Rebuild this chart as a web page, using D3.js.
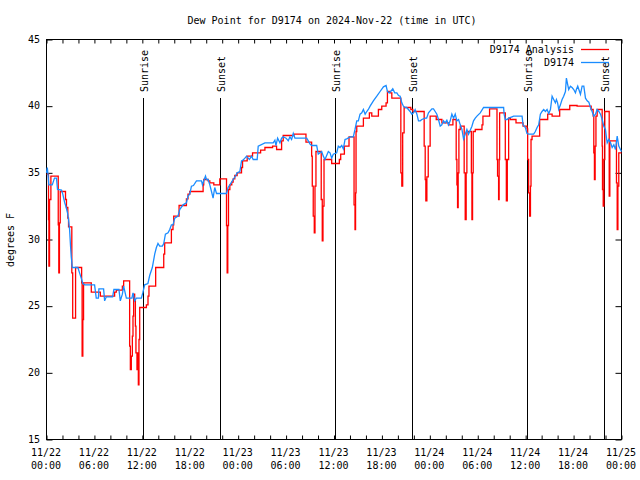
<!DOCTYPE html>
<html><head><meta charset="utf-8">
<script src="https://cdn.jsdelivr.net/npm/d3@7"></script>
<style>
body{margin:0;background:#fff}
svg text{font-family:"DejaVu Sans Mono",monospace;font-size:10px;fill:#000}
</style></head><body><svg id="c" width="640" height="480"></svg>
<script>
const chartTitle = "Dew Point for D9174 on 2024-Nov-22 (time in UTC)";
const yLabel = "degrees F";
const startUtc = Date.UTC(2024, 10, 22, 0, 0);
const endUtc = Date.UTC(2024, 10, 25, 0, 0);
const yTicks = [15, 20, 25, 30, 35, 40, 45];
const seriesNames = ["D9174 Analysis", "D9174"];
const seriesColors = ["#ff0000", "#1a8cff"];
const sunEvents = ["Sunrise", "Sunset", "Sunrise", "Sunset", "Sunrise", "Sunset"];
const sunHours = [12.04, 21.74, 36.16, 45.72, 60.12, 69.78];

// analysis series: [hours since 11/22 00:00 UTC, dew point F]
const analysisSeries = [
[0,34.9],[0.25,31.5],[0.3,28.0],[0.38,33.0],[0.55,34.75],[1.47,31.1],[1.54,27.5],[1.62,31.25],[1.72,33.6],
[2.38,33.0],[2.50,32.4],[2.67,31.6],[2.76,30.95],[3.17,27.5],[3.28,24.1],[3.64,27.9],[4.40,26.75],[4.46,21.25],
[4.55,24.0],[4.64,26.75],[5.61,26.05],[6.74,25.75],[8.53,26.05],[8.74,26.2],[9.50,26.5],[9.66,26.9],[10.41,22.0],
[10.50,20.25],[10.62,21.25],[10.75,22.75],[10.83,24.25],[10.91,25.9],[11.04,25.4],[11.13,23.5],[11.20,21.5],
[11.33,20.25],[11.40,21.5],[11.50,19.1],[11.58,22.5],[11.67,24.9],[12.51,25.1],[12.71,25.75],[12.83,26.5],
[13.67,27.9],[14.68,28.9],[14.80,29.75],[15.64,30.75],[15.84,31.1],[15.93,31.75],[16.60,32.55],[17.52,33.05],
[17.72,33.4],[17.94,33.6],[19.61,34.1],[19.69,34.5],[20.23,34.4],[20.45,34.25],[20.95,34.1],[21.70,34.55],
[22.54,31.05],[22.62,27.5],[22.70,31.05],[22.79,33.75],[22.96,34.1],[23.20,34.3],[23.37,34.55],[23.58,34.8],
[23.87,35.0],[24.42,35.4],[24.55,35.9],[25.13,36.25],[25.80,36.5],[26.81,36.7],[27.35,36.9],[28.31,37.0],
[28.81,36.75],[29.44,37.4],[29.64,37.8],[30.98,37.9],[32.49,37.3],[33.20,36.25],[33.28,34.0],[33.40,31.75],
[33.53,30.5],[33.62,34.0],[33.74,36.6],[34.40,33.0],[34.53,29.9],[34.62,32.5],[34.75,36.0],[35.71,35.7],
[36.67,36.0],[36.84,36.4],[37.30,37.0],[37.88,37.7],[38.51,32.6],[38.63,30.75],[38.70,33.5],[38.76,38.1],
[38.85,38.5],[39.68,39.1],[40.43,39.5],[40.73,39.25],[41.56,39.75],[41.98,40.0],[42.52,40.25],[42.69,41.1],
[43.03,41.0],[43.24,40.6],[44.28,40.6],[44.37,35.0],[44.49,34.0],[44.60,38.0],[44.78,39.9],[45.62,39.75],
[45.87,39.6],[47.29,37.0],[47.42,34.5],[47.50,32.9],[47.63,34.7],[47.80,37.0],[48.04,39.25],[48.80,39.0],
[49.51,38.75],[50.34,38.6],[50.89,39.0],[51.30,36.0],[51.39,34.1],[51.47,32.4],[51.55,35.0],[51.64,38.25],
[51.81,38.5],[52.30,35.0],[52.43,31.5],[52.55,35.0],[52.64,38.1],[53.20,35.0],[53.27,31.5],[53.35,35.0],
[53.43,38.1],[53.69,38.25],[54.53,38.6],[54.65,39.25],[55.48,39.8],[56.41,36.0],[56.48,34.75],[56.61,33.0],
[56.68,36.0],[56.74,39.5],[57.45,36.0],[57.58,32.9],[57.70,36.0],[57.87,39.1],[58.08,39.0],[58.79,38.75],
[59.67,38.5],[60.17,38.3],[60.25,36.0],[60.37,33.5],[60.50,31.75],[60.60,34.0],[60.67,37.5],[60.80,37.75],
[61.75,39.0],[62.76,39.4],[63.31,39.25],[64.26,39.75],[65.52,40.05],[66.44,40.0],[68.20,39.75],[68.45,39.25],
[68.53,36.5],[68.61,34.5],[68.70,37.0],[68.80,39.25],[68.95,39.75],[69.58,37.0],[69.62,33.75],[69.71,32.5],
[69.80,36.0],[69.91,39.6],[70.41,39.6],[70.46,33.25],[70.54,37.4],[71.37,34.25],[71.46,30.75],[71.55,34.0],
[71.66,36.5],[72.0,36.5]
];

// observed series: [hours since 11/22 00:00 UTC, dew point F]
const obsSeries = [
[0,35.0],[0.1,35.4],[0.2,34.8],[0.29,34.1],[0.72,34.1],[1.0,34.6],[1.25,34.6],[1.38,33.75],[1.88,33.7],
[2.04,33.4],[2.26,32.8],[2.47,32.4],[2.63,32.0],[2.76,31.5],[2.89,30.75],[3.01,29.5],[3.10,28.7],[3.17,28.3],
[3.22,27.9],[3.93,27.9],[4.14,27.5],[4.35,27.1],[4.55,26.7],[4.77,26.6],[6.02,26.6],[6.23,25.6],[6.50,25.6],
[6.56,26.3],[7.15,26.3],[7.28,25.4],[7.49,25.7],[8.28,25.7],[8.44,26.25],[9.07,26.25],[9.24,25.4],[9.50,25.9],
[9.66,26.5],[10.0,25.6],[10.70,25.6],[10.83,26.0],[11.04,25.4],[11.25,25.6],[11.88,25.6],[12.08,26.05],
[12.29,26.6],[12.70,26.7],[12.92,27.3],[13.25,27.9],[13.55,28.9],[13.76,29.4],[13.96,29.7],[14.17,29.5],
[14.51,29.5],[14.68,29.7],[14.89,30.4],[15.22,30.5],[15.43,30.75],[15.64,31.1],[15.84,31.1],[16.06,31.6],
[16.47,31.75],[16.68,32.25],[17.10,32.6],[17.52,32.75],[17.72,33.25],[17.94,33.4],[18.15,34.0],[18.40,34.05],
[18.78,34.4],[19.41,34.4],[19.53,34.1],[19.69,34.4],[19.91,34.75],[20.03,34.5],[20.23,34.5],[20.45,34.1],
[20.66,33.6],[20.86,33.1],[21.07,33.9],[21.29,33.45],[22.54,33.45],[22.74,33.9],[22.96,34.1],[23.37,34.5],
[23.71,34.8],[23.87,35.0],[24.21,35.1],[24.42,35.9],[24.60,35.95],[24.84,36.1],[25.05,36.25],[25.40,36.0],
[25.68,36.25],[25.88,36.0],[26.38,36.0],[26.51,37.0],[27.35,37.25],[28.39,37.25],[28.60,37.45],[28.73,37.05],
[28.94,37.6],[29.23,37.25],[29.44,37.6],[29.64,37.7],[30.00,37.6],[30.27,37.4],[30.48,37.7],[30.69,37.5],
[30.90,37.95],[31.11,37.6],[32.58,37.6],[32.78,37.4],[33.00,37.15],[33.20,37.05],[33.83,37.05],[34.03,36.4],
[34.24,36.5],[34.46,36.6],[34.66,36.25],[34.87,36.0],[35.08,36.3],[35.29,36.6],[35.50,36.5],[35.71,36.1],
[35.91,36.4],[36.34,36.5],[36.54,37.0],[36.75,36.9],[36.97,37.05],[37.17,36.8],[37.38,37.5],[37.60,37.55],
[38.01,37.7],[38.42,37.7],[38.63,38.25],[38.85,38.9],[39.05,38.9],[39.26,39.4],[39.48,39.5],[39.68,39.75],
[39.90,39.4],[40.10,39.6],[40.30,39.75],[40.52,40.0],[40.93,40.4],[41.36,40.75],[41.77,41.1],[42.19,41.45],
[42.52,41.55],[42.69,41.1],[42.90,41.0],[43.10,41.1],[43.36,41.3],[43.60,41.0],[43.87,41.0],[44.08,40.8],
[44.28,40.75],[44.49,40.25],[44.69,40.0],[44.91,39.9],[45.10,39.9],[45.32,39.75],[45.53,39.6],[45.75,39.4],
[45.95,39.5],[46.16,39.75],[46.38,39.4],[46.58,38.9],[46.80,38.9],[47.00,39.0],[47.42,39.1],[47.60,39.1],
[47.83,39.5],[48.26,39.8],[48.46,39.8],[48.67,39.6],[48.88,39.4],[49.08,39.0],[49.30,38.5],[49.50,38.6],
[49.71,38.9],[49.92,38.75],[50.13,38.95],[50.34,38.6],[50.55,38.9],[50.76,39.4],[50.97,39.1],[51.18,39.4],
[51.39,38.9],[51.60,39.0],[51.81,38.6],[52.02,38.25],[52.22,37.55],[52.43,37.9],[52.64,38.25],[52.85,37.9],
[53.06,38.2],[53.27,38.5],[53.47,38.9],[53.69,39.1],[53.90,39.25],[54.31,39.5],[54.73,39.9],[57.24,39.9],
[57.30,39.4],[57.45,39.0],[57.66,39.0],[57.87,39.1],[58.29,39.2],[58.49,39.25],[59.55,39.25],[59.67,38.6],
[59.96,38.4],[60.17,37.95],[60.37,37.9],[61.00,37.9],[61.21,38.1],[61.43,38.4],[61.63,38.6],[61.84,39.4],
[62.05,39.6],[62.26,39.75],[62.47,39.6],[62.68,39.75],[62.89,39.45],[63.10,39.75],[63.31,40.75],[63.51,40.5],
[63.72,40.25],[63.85,40.5],[64.00,40.25],[64.14,39.75],[64.35,40.1],[64.56,40.5],[64.76,40.75],[64.98,41.1],
[65.10,42.1],[65.27,41.6],[65.39,41.25],[65.60,41.5],[65.81,41.4],[66.02,41.25],[66.23,41.0],[66.35,41.25],
[66.52,41.5],[66.69,41.2],[66.86,40.9],[67.07,41.5],[67.28,41.5],[67.49,40.6],[67.70,40.4],[67.91,40.3],
[68.11,39.9],[68.32,39.6],[68.53,39.25],[68.74,39.4],[68.95,39.75],[69.16,39.6],[69.37,39.4],[69.58,39.0],
[69.78,38.5],[69.99,38.25],[70.12,37.6],[70.21,37.25],[70.41,37.5],[70.63,37.25],[70.83,36.9],[71.04,37.1],
[71.25,36.75],[71.46,37.75],[71.66,37.0],[71.87,36.75],[72.0,36.6]
];

const svg = d3.select("#c");
const L = 46.5, R = 621.5, T = 39.5, B = 439.5;
const toDate = h => new Date(startUtc + h * 3600000);
const x = d3.scaleUtc().domain([new Date(startUtc), new Date(endUtc)]).range([L, R]);
const y = d3.scaleLinear().domain([15, 45]).range([B, T]);

svg.append("text").attr("x", 332).attr("y", 24).attr("text-anchor", "middle").text(chartTitle);
svg.append("text").attr("transform", "translate(13.5,240) rotate(-90)").attr("text-anchor", "middle").text(yLabel);

const xTickVals = d3.utcHour.every(2).range(new Date(startUtc), new Date(endUtc + 1));
const fmtDay = d3.utcFormat("%m/%d"), fmtHour = d3.utcFormat("%H:%M");

const gB = svg.append("g").attr("transform", `translate(0,${B})`)
  .call(d3.axisBottom(x).tickValues(xTickVals).tickSizeInner(-4).tickSizeOuter(0).tickPadding(9)
    .tickFormat(d => d.getUTCHours() % 6 === 0 ? "x" : ""));
gB.selectAll(".tick text").each(function(d) {
  const t = d3.select(this);
  if (d.getUTCHours() % 6 !== 0) { t.remove(); return; }
  t.text(null).attr("font-family", null).attr("font-size", null).attr("x", -1);
  t.append("tspan").attr("x", -1).text(fmtDay(d));
  t.append("tspan").attr("x", -1).attr("dy", 13.5).text(fmtHour(d));
});
const gT = svg.append("g").attr("transform", `translate(0,${T})`)
  .call(d3.axisTop(x).tickValues(xTickVals).tickSizeInner(-4).tickSizeOuter(0).tickFormat(""));
const gL = svg.append("g").attr("transform", `translate(${L},0)`)
  .call(d3.axisLeft(y).tickValues(yTicks).tickSizeInner(-6).tickSizeOuter(0).tickPadding(6.5).tickFormat(d3.format("d")));
gL.selectAll(".tick text").attr("font-family", null).attr("font-size", null).attr("dy", "0.25em");
const gR = svg.append("g").attr("transform", `translate(${R},0)`)
  .call(d3.axisRight(y).tickValues(yTicks).tickSizeInner(-6).tickSizeOuter(0).tickFormat(""));
[gB, gT, gL, gR].forEach(g => { g.attr("font-family", null).attr("font-size", null); g.select(".domain").remove(); });

svg.append("rect").attr("x", L).attr("y", T).attr("width", R - L).attr("height", B - T)
  .attr("fill", "none").attr("stroke", "#000").attr("stroke-width", 1);

const sun = svg.append("g");
sunHours.forEach((h, i) => {
  const px = Math.round(x(toDate(h))) + 0.5;
  sun.append("line").attr("x1", px).attr("x2", px).attr("y1", 98).attr("y2", B)
    .attr("stroke", "#000").attr("stroke-width", 1);
  sun.append("text").attr("transform", `translate(${px + 4},92) rotate(-90)`).text(sunEvents[i]);
});

const line = d3.line().x(d => x(toDate(d[0]))).y(d => y(d[1]));
svg.append("path").datum(analysisSeries).attr("d", line.curve(d3.curveStepAfter))
  .attr("fill", "none").attr("stroke", seriesColors[0]).attr("stroke-width", 1.3);
svg.append("path").datum(obsSeries).attr("d", d3.line().x(d => x(toDate(d[0]))).y(d => y(d[1])))
  .attr("fill", "none").attr("stroke", seriesColors[1]).attr("stroke-width", 1.3);

const leg = svg.append("g");
seriesNames.forEach((n, i) => {
  const yy = 49.5 + i * 13;
  leg.append("text").attr("x", 574).attr("y", yy + 3.5).attr("text-anchor", "end").text(n);
  leg.append("line").attr("x1", 581).attr("x2", 609).attr("y1", yy).attr("y2", yy)
    .attr("stroke", seriesColors[i]).attr("stroke-width", 1.3);
});
</script></body></html>
